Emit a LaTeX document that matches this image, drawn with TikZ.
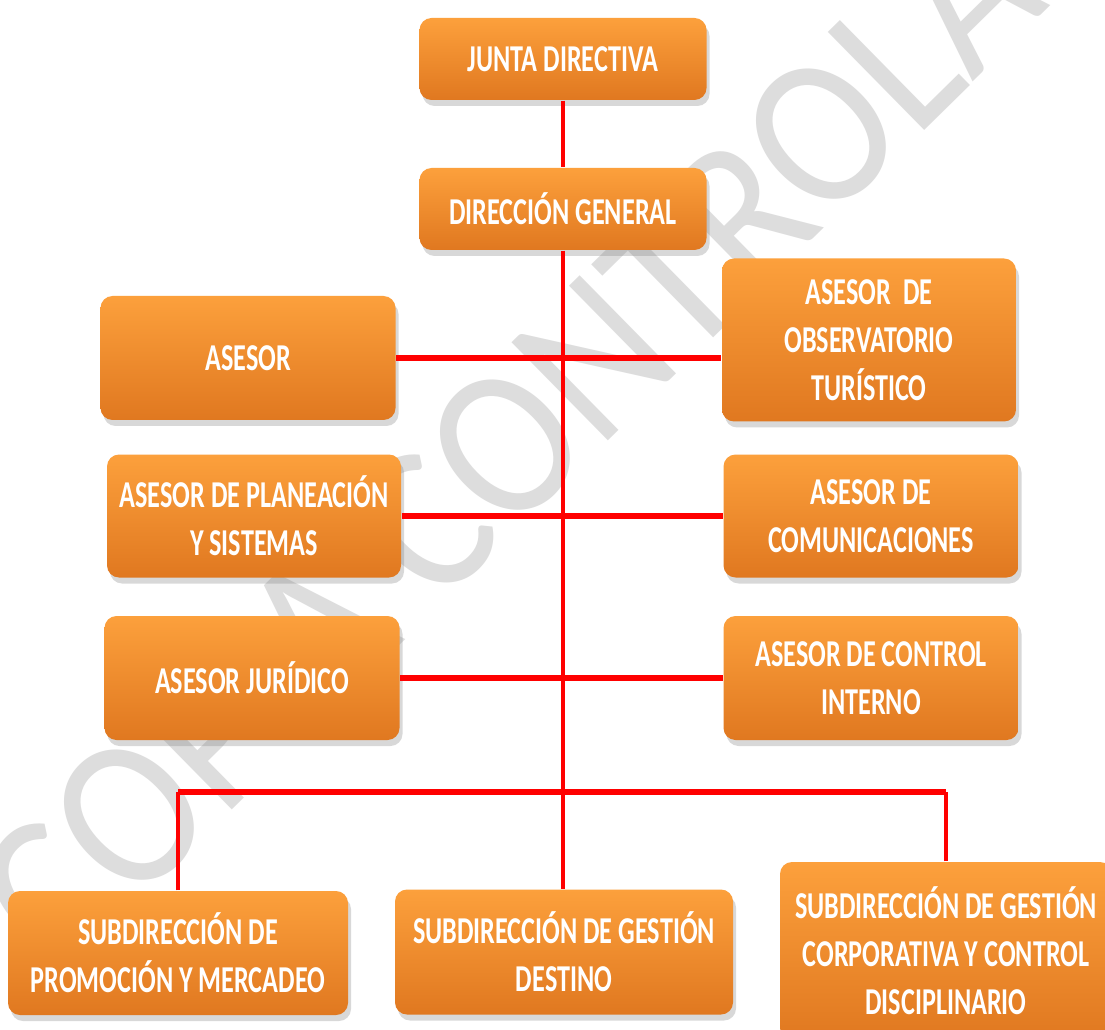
\documentclass[tikz,border=0pt]{standalone}
\usepackage{fontspec}
\newfontfamily\boxfont{Carlito}[FakeStretch=0.69]
\newfontfamily\markfont{Carlito}[FakeStretch=0.89]
\usetikzlibrary{shadows}
\definecolor{boxtop}{RGB}{252,160,60}
\definecolor{boxbot}{RGB}{224,120,32}
\definecolor{linkred}{RGB}{255,0,0}
\definecolor{markgray}{RGB}{221,221,221}

\begin{document}
\begin{tikzpicture}[x=0.1mm, y=-0.1mm,
  unit/.style={rectangle, rounded corners=1.2mm, top color=boxtop, bottom color=boxbot,
    text=white, align=center, inner sep=0pt,
    font=\boxfont\bfseries\fontsize{10.8}{13.7}\selectfont,
    drop shadow={opacity=0.3, shadow xshift=0.3mm, shadow yshift=-0.6mm}},
  hlink/.style={draw=linkred, line width=0.6mm},
  vlink/.style={draw=linkred, line width=0.4mm}]
  \clip (0,0) rectangle (1105,1030);
  \fill[white] (0,0) rectangle (1105,1030);
  % watermark
  \node[text=markgray, inner sep=0pt, font=\markfont\fontsize{61}{61}\selectfont, rotate=44.5] (mark) at (588,364) {COPIA CONTROLADA};
  % boxes
  \node[unit, minimum width=28.7mm, minimum height=8.2mm] (junta) at (563,59) {JUNTA DIRECTIVA};
  \node[unit, minimum width=28.7mm, minimum height=8.2mm] (direccion) at (563,209) {DIRECCIÓN GENERAL};
  \node[unit, minimum width=29.5mm, minimum height=12.4mm] (asesor) at (248,358) {ASESOR};
  \node[unit, minimum width=29.4mm, minimum height=16.3mm] (observatorio) at (869,340) {ASESOR~~DE\\OBSERVATORIO\\TURÍSTICO};
  \node[unit, minimum width=29.4mm, minimum height=12.3mm] (planeacion) at (254,516) {ASESOR DE PLANEACIÓN\\Y SISTEMAS};
  \node[unit, minimum width=29.5mm, minimum height=12.3mm] (comunicaciones) at (871,516) {ASESOR DE\\COMUNICACIONES};
  \node[unit, minimum width=29.5mm, minimum height=12.4mm] (juridico) at (252,678) {ASESOR JURÍDICO};
  \node[unit, minimum width=29.5mm, minimum height=12.4mm] (control) at (871,678) {ASESOR DE CONTROL\\INTERNO};
  \node[unit, minimum width=34mm, minimum height=12.4mm] (promocion) at (178,953) {SUBDIRECCIÓN DE\\PROMOCIÓN Y MERCADEO};
  \node[unit, minimum width=33.8mm, minimum height=12.5mm] (destino) at (564,952) {SUBDIRECCIÓN DE GESTIÓN\\DESTINO};
  \node[unit, minimum width=33.2mm, minimum height=17.8mm] (corporativa) at (946,951) {SUBDIRECCIÓN DE GESTIÓN\\CORPORATIVA Y CONTROL\\DISCIPLINARIO};
  \coordinate (bus) at (565,792);
  % lines
  \draw[vlink] (junta) -- (direccion);
  \draw[vlink] (direccion.south) -- (direccion.south |- destino.north);
  \draw[hlink] (asesor.east) -- (asesor.east -| observatorio.west);
  \draw[hlink] (planeacion.east) -- (comunicaciones.west);
  \draw[hlink] (juridico.east) -- (control.west);
  \draw[hlink] (promocion.north |- bus) -- (corporativa.north |- bus);
  \draw[vlink] (promocion.north) -- (promocion.north |- bus);
  \draw[vlink] (corporativa.north) -- (corporativa.north |- bus);
\end{tikzpicture}
\end{document}
